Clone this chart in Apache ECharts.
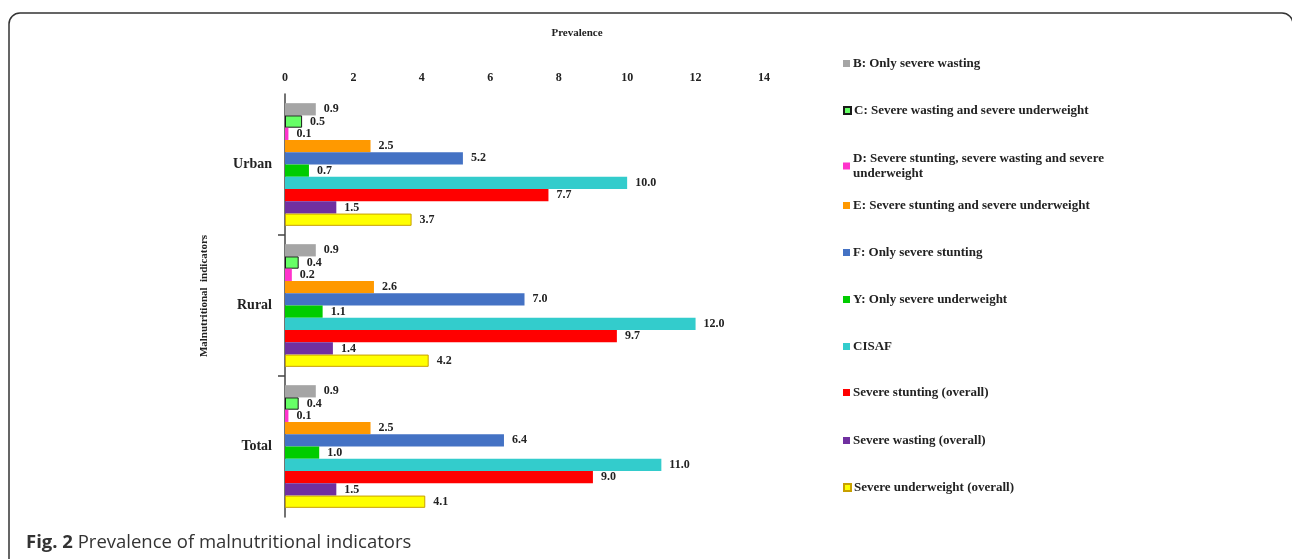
<!DOCTYPE html>
<html>
<head>
<meta charset="utf-8">
<script src="https://cdn.jsdelivr.net/npm/echarts@6/dist/echarts.min.js"></script>
<style>
  html, body { margin: 0; padding: 0; background: #fff; }
  #chart { width: 1292px; height: 559px; }
</style>
</head>
<body>
<div id="chart"></div>
<script>
const categories = ['Urban', 'Rural', 'Total'];
const xTicks = [0, 2, 4, 6, 8, 10, 12, 14];

const seriesNames = [
  'B: Only severe wasting',
  'C: Severe wasting and severe underweight',
  'D: Severe stunting, severe wasting and severe\nunderweight',
  'E: Severe stunting and severe underweight',
  'F: Only severe stunting',
  'Y: Only severe underweight',
  'CISAF',
  'Severe stunting (overall)',
  'Severe wasting (overall)',
  'Severe underweight (overall)'
];

// values per series: [Urban, Rural, Total]
const onlyWasting = [0.9, 0.9, 0.9];
const wastingUnderweight = [0.5, 0.4, 0.4];
const allThree = [0.1, 0.2, 0.1];
const stuntingUnderweight = [2.5, 2.6, 2.5];
const onlyStunting = [5.2, 7.0, 6.4];
const onlyUnderweight = [0.7, 1.1, 1.0];
const cisaf = [10.0, 12.0, 11.0];
const stuntingOverall = [7.7, 9.7, 9.0];
const wastingOverall = [1.5, 1.4, 1.5];
const underweightOverall = [3.7, 4.2, 4.1];

const seriesValues = [
  onlyWasting, wastingUnderweight, allThree, stuntingUnderweight, onlyStunting,
  onlyUnderweight, cisaf, stuntingOverall, wastingOverall, underweightOverall
];

const colors = ['#a5a5a5', '#66ff66', '#ff33cc', '#ff9900', '#4472c4',
  '#00cc00', '#33cccc', '#ff0000', '#7030a0', '#ffff00'];
const borders = [null, '#1a1a1a', null, null, null, null, null, null, null, '#c8a000'];

const serif = '"Liberation Serif", "DejaVu Serif", serif';
const sans = '"Open Sans", "Noto Sans", sans-serif';
const legendTops = [51, 98, 146, 193, 240, 287, 334, 380, 428, 475];

const chart = echarts.init(document.getElementById('chart'));

const series = seriesNames.map((name, i) => ({
  name,
  type: 'bar',
  data: seriesValues[i],
  barGap: '0%',
  barCategoryGap: '13%',
  itemStyle: {
    color: colors[i],
    borderColor: borders[i] || colors[i],
    borderWidth: borders[i] ? 1 : 0
  },
  label: {
    show: true,
    position: 'right',
    distance: 8,
    formatter: (p) => p.value.toFixed(1),
    fontFamily: serif,
    fontWeight: 'bold',
    fontSize: 12,
    color: '#222'
  }
}));

const legends = seriesNames.map((name, i) => ({
  data: [name],
  orient: 'vertical',
  left: 838,
  top: legendTops[i],
  itemWidth: 7,
  itemHeight: 7,
  itemGap: 0,
  icon: 'rect',
  selectedMode: false,
  textStyle: {
    fontFamily: serif,
    fontWeight: 'bold',
    fontSize: 13,
    lineHeight: 15,
    color: '#222',
    padding: [0, 0, 0, -2]
  }
}));

chart.setOption({
  animation: false,
  legend: legends,
  grid: {
    left: 285,
    right: 528,
    top: 94,
    bottom: 42
  },
  xAxis: {
    type: 'value',
    position: 'top',
    min: xTicks[0],
    max: xTicks[xTicks.length - 1],
    interval: 2,
    axisLine: { show: false },
    axisTick: { show: false },
    splitLine: { show: false },
    axisLabel: { fontFamily: serif, fontWeight: 'bold', fontSize: 12, color: '#222', margin: 10 }
  },
  yAxis: [
    {
      type: 'category',
      data: categories,
      inverse: true,
      axisLine: { show: true, lineStyle: { color: '#444', width: 1.5 } },
      axisTick: { show: false },
      axisLabel: { fontFamily: serif, fontWeight: 'bold', fontSize: 14, color: '#222', margin: 13 }
    },
    {
      // only the two ticks between the groups
      type: 'value',
      position: 'left',
      inverse: true,
      min: 0,
      max: categories.length,
      axisLine: { show: false },
      splitLine: { show: false },
      axisLabel: { show: false },
      axisTick: {
        show: true,
        length: 7,
        customValues: [1, 2],
        lineStyle: { color: '#444', width: 1.5 }
      }
    }
  ],
  graphic: [
    {
      type: 'rect',
      shape: { x: 9, y: 13, width: 1284, height: 620, r: 11 },
      style: { fill: null, stroke: '#333', lineWidth: 1.5 },
      silent: true
    },
    {
      type: 'text',
      x: 577,
      y: 33,
      style: {
        text: 'Prevalence',
        fontFamily: serif,
        fontWeight: 'bold',
        fontSize: 11,
        fill: '#222',
        align: 'center',
        verticalAlign: 'middle'
      }
    },
    {
      type: 'text',
      x: 204,
      y: 296,
      rotation: Math.PI / 2,
      style: {
        text: 'Malnutritional  indicators',
        fontFamily: serif,
        fontWeight: 'bold',
        fontSize: 11,
        fill: '#222',
        align: 'center',
        verticalAlign: 'middle'
      }
    },
    {
      type: 'text',
      x: 26,
      y: 543,
      style: {
        text: '{b|Fig. 2} Prevalence of malnutritional indicators',
        rich: {
          b: { fontFamily: sans, fontWeight: 'bold', fontSize: 18.5, fill: '#333' }
        },
        fontFamily: sans,
        fontSize: 18.5,
        fill: '#333',
        verticalAlign: 'middle'
      }
    }
  ],
  series
});
</script>
</body>
</html>
